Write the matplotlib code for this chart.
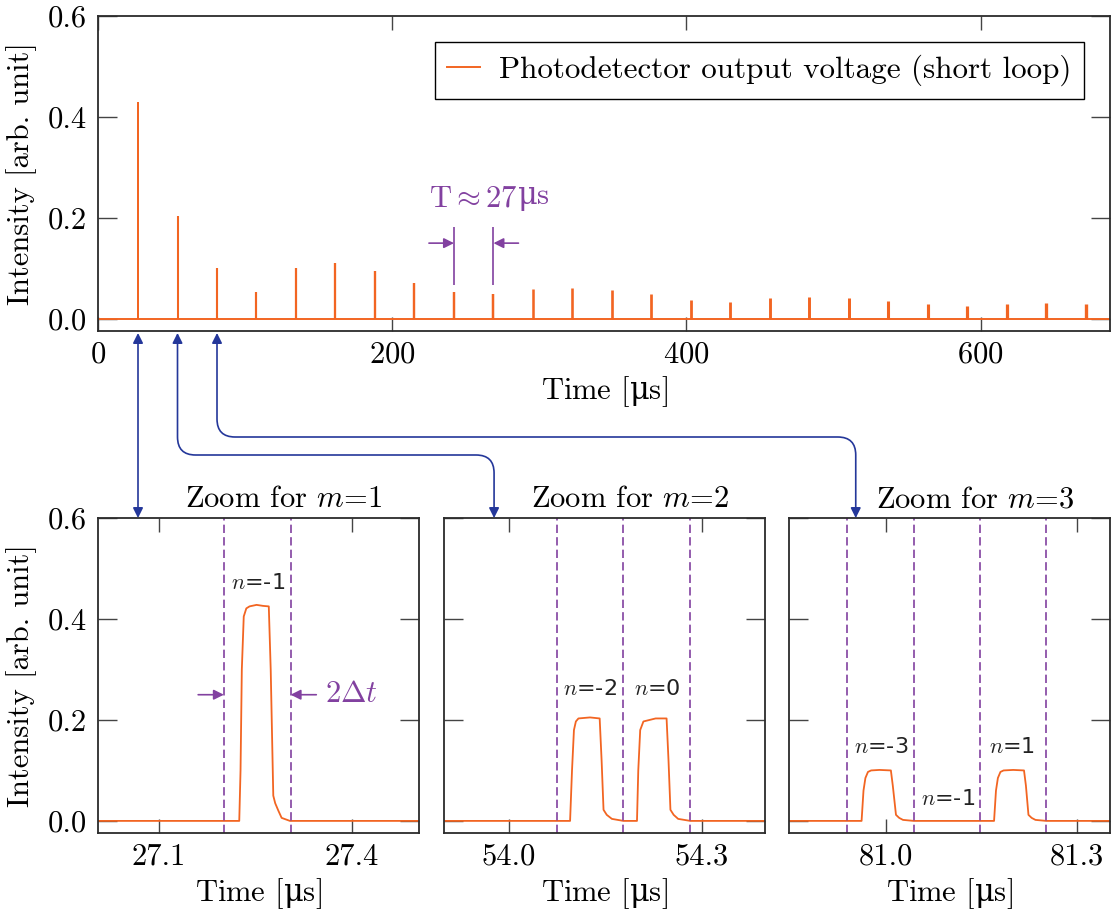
import matplotlib
matplotlib.use('Agg')
import matplotlib.pyplot as plt
from matplotlib.path import Path
from matplotlib.patches import FancyArrowPatch
from matplotlib.transforms import IdentityTransform

plt.rcParams['font.family'] = ['cmr10', 'DejaVu Serif']
plt.rcParams['mathtext.fontset'] = 'cm'
plt.rcParams['axes.formatter.use_mathtext'] = True
plt.rcParams['axes.unicode_minus'] = False
plt.rcParams['font.size'] = 22

orange = '#f26522'
purple = '#8241a0'
navy = '#24379a'
frame = '#2b2b2b'
tickc = '#444444'

# upright micro sign (cmr10 has no usable glyph for it)
TIME_LABEL = 'Time [$\\mathrm{\\mu}$s]'

### spike train of the short loop, one spike per round trip m ###
spike_m = list(range(1, 26))
spike_t = [27.2, 54.05, 80.9, 107.75, 134.6, 161.45, 188.3, 215.15, 242.0, 268.85,
           295.7, 322.55, 349.4, 376.25, 403.1, 429.95, 456.8, 483.65, 510.5, 537.35,
           564.2, 591.05, 617.9, 644.75, 671.6]
spike_v = [0.430, 0.204, 0.101, 0.053, 0.100, 0.110, 0.095, 0.071, 0.053, 0.049,
           0.059, 0.062, 0.057, 0.049, 0.038, 0.034, 0.042, 0.044, 0.041, 0.036,
           0.029, 0.025, 0.029, 0.031, 0.030]

### zoomed pulse traces ###
m1_t = [27.005, 27.225, 27.227, 27.229, 27.232, 27.236, 27.241, 27.252, 27.262, 27.271,
        27.274, 27.278, 27.281, 27.286, 27.291, 27.304, 27.505]
m1_v = [0.0, 0.0, 0.10, 0.30, 0.405, 0.421, 0.425, 0.428, 0.426, 0.425,
        0.30, 0.05, 0.035, 0.02, 0.006, 0.0, 0.0]
m2_t = [53.899, 54.095, 54.098, 54.101, 54.104, 54.108, 54.126, 54.141, 54.144, 54.147,
        54.152, 54.160, 54.178, 54.199, 54.201, 54.204, 54.209, 54.228, 54.245, 54.248,
        54.251, 54.256, 54.263, 54.282, 54.398]
m2_v = [0.0, 0.0, 0.10, 0.180, 0.197, 0.203, 0.205, 0.203, 0.12, 0.022,
        0.012, 0.004, 0.0, 0.0, 0.10, 0.180, 0.197, 0.203, 0.203, 0.12,
        0.022, 0.012, 0.004, 0.0, 0.0]
m3_t = [80.848, 80.962, 80.965, 80.968, 80.972, 80.977, 80.990, 81.008, 81.011, 81.016,
        81.021, 81.027, 81.044, 81.170, 81.173, 81.176, 81.180, 81.185, 81.200, 81.217,
        81.220, 81.224, 81.229, 81.235, 81.252, 81.352]
m3_v = [0.0, 0.0, 0.06, 0.085, 0.097, 0.100, 0.101, 0.100, 0.07, 0.012,
        0.006, 0.002, 0.0, 0.0, 0.06, 0.085, 0.097, 0.100, 0.101, 0.100,
        0.07, 0.012, 0.006, 0.002, 0.0, 0.0]

### time windows (2 delta t) and n labels ###
m1_win = [27.201, 27.305]
m2_win = [54.074, 54.178, 54.282]
m3_win = [80.939, 81.044, 81.148, 81.252]
m1_ticks = [27.1, 27.4]
m2_ticks = [54.0, 54.3]
m3_ticks = [81.0, 81.3]
m1_lim = (27.005, 27.505)
m2_lim = (53.899, 54.398)
m3_lim = (80.848, 81.352)
m1_n = [('-1', 27.254, 0.471)]
m2_n = [('-2', 54.126, 0.261), ('0', 54.230, 0.261)]
m3_n = [('-3', 80.993, 0.147), ('-1', 81.097, 0.044), ('1', 81.199, 0.147)]

y_ticks = [0.0, 0.2, 0.4, 0.6]
y_lim = (-0.024, 0.6)


def style_axes(a, xlen):
    for s in a.spines.values():
        s.set_color(frame)
        s.set_linewidth(1.3)
    a.tick_params(axis='x', direction='in', top=True, length=xlen, width=1.0,
                  color=tickc, pad=7)
    a.tick_params(axis='y', direction='in', right=True, length=14, width=1.0,
                  color=tickc, pad=8)


fig = plt.figure(figsize=(11.15, 9.14), dpi=100)

### overview of the spike train ###
ax = fig.add_axes([0.0879, 0.6379, 0.9076, 0.3446])
ax.axhline(0, color=orange, lw=1.4, label='Photodetector output voltage (short loop)')
ax.vlines(spike_t, 0, spike_v, colors=orange,
          linewidths=[1.4 + 0.04 * m for m in spike_m])
ax.set_xlim(0, 688)
ax.set_ylim(*y_lim)
ax.set_xticks([0, 200, 400, 600])
ax.set_yticks(y_ticks)
ax.set_yticklabels(['0.0', '0.2', '0.4', '0.6'])
ax.set_xlabel(TIME_LABEL, labelpad=4, math_fontfamily='dejavuserif')
ax.set_ylabel('Intensity [arb. unit]', labelpad=8)
style_axes(ax, 10)
leg = ax.legend(loc='upper right', fancybox=False, edgecolor='black', framealpha=1,
                handlelength=1.05, handletextpad=0.6, borderpad=0.4,
                borderaxespad=0.85, prop={'size': 22.4})
leg.get_frame().set_linewidth(1.0)

### period marker between two neighbouring spikes ###
ta, tb = spike_t[8], spike_t[9]
ax.vlines([ta, tb], 0.067, 0.182, colors=purple, lw=1.2)
ax.annotate('', xy=(ta, 0.15), xytext=(ta - 17, 0.15),
            arrowprops=dict(arrowstyle='-|>', color=purple, lw=1.2,
                            mutation_scale=15, shrinkA=0, shrinkB=0))
ax.annotate('', xy=(tb, 0.15), xytext=(tb + 17, 0.15),
            arrowprops=dict(arrowstyle='-|>', color=purple, lw=1.2,
                            mutation_scale=15, shrinkA=0, shrinkB=0))
ax.text(285.0, 0.237, 'T$\\approx$27', color=purple, ha='right', va='center')
ax.text(285.0, 0.237, '$\\mathrm{\\mu}$s', color=purple, ha='left', va='center',
        math_fontfamily='dejavuserif')

### zoomed panels ###
panels = [
    (m1_t, m1_v, m1_win, m1_ticks, m1_lim, m1_n, 1),
    (m2_t, m2_v, m2_win, m2_ticks, m2_lim, m2_n, 2),
    (m3_t, m3_v, m3_win, m3_ticks, m3_lim, m3_n, 3),
]
lefts = [0.0879, 0.3982, 0.7076]
zax = []
for left, (t, v, win, ticks, lim, nlab, m) in zip(lefts, panels):
    b = fig.add_axes([left, 0.0886, 0.2879, 0.3446])
    b.plot(t, v, color=orange, lw=1.3)
    for w in win:
        b.axvline(w, color=purple, lw=1.2, dashes=(5, 2.5))
    for txt, x, y in nlab:
        b.text(x, y, '$n$=' + txt, family='DejaVu Sans', fontsize=16,
               ha='center', va='center', color='#222222')
    b.set_xlim(*lim)
    b.set_ylim(*y_lim)
    b.set_xticks(ticks)
    b.set_xticklabels(['%.1f' % k for k in ticks])
    b.set_yticks(y_ticks)
    b.set_xlabel(TIME_LABEL, labelpad=4, math_fontfamily='dejavuserif')
    style_axes(b, 10)
    b.text(0.578, 1.015, 'Zoom for $m$=%d' % m, transform=b.transAxes,
           ha='center', va='bottom')
    zax.append(b)

zax[0].set_yticklabels(['0.0', '0.2', '0.4', '0.6'])
zax[0].set_ylabel('Intensity [arb. unit]', labelpad=8)
zax[1].set_yticklabels([])
zax[2].set_yticklabels([])

zax[0].annotate('', xy=(m1_win[0], 0.25), xytext=(m1_win[0] - 0.04, 0.25),
                arrowprops=dict(arrowstyle='-|>', color=purple, lw=1.2,
                                mutation_scale=15, shrinkA=0, shrinkB=0))
zax[0].annotate('', xy=(m1_win[1], 0.25), xytext=(m1_win[1] + 0.04, 0.25),
                arrowprops=dict(arrowstyle='-|>', color=purple, lw=1.2,
                                mutation_scale=15, shrinkA=0, shrinkB=0))
zax[0].text(m1_win[1] + 0.053, 0.25, '$2\\Delta t$', color=purple,
            ha='left', va='center')

### connectors from the first spikes to their zoom panels ###
H = fig.bbox.height
ends = [None, 0.156, 0.208]
levels = [None, H - 455, H - 437]
r = 18
for k in range(3):
    x0, y0 = ax.transData.transform((spike_t[k], y_lim[0]))
    y0 -= 2
    if ends[k] is None:
        x1, y1 = x0, zax[0].transAxes.transform((0, 1))[1]
        verts = [(x0, y0), (x1, y1)]
        codes = [Path.MOVETO, Path.LINETO]
    else:
        x1, y1 = zax[k].transAxes.transform((ends[k], 1))
        yh = levels[k]
        verts = [(x0, y0), (x0, yh + r), (x0, yh), (x0 + r, yh),
                 (x1 - r, yh), (x1, yh), (x1, yh - r), (x1, y1)]
        codes = [Path.MOVETO, Path.LINETO, Path.CURVE3, Path.CURVE3,
                 Path.LINETO, Path.CURVE3, Path.CURVE3, Path.LINETO]
    arr = FancyArrowPatch(path=Path(verts, codes), arrowstyle='<|-|>',
                          mutation_scale=15, color=navy, lw=1.2,
                          transform=IdentityTransform())
    fig.add_artist(arr)

fig.savefig('out.png', dpi=100)
